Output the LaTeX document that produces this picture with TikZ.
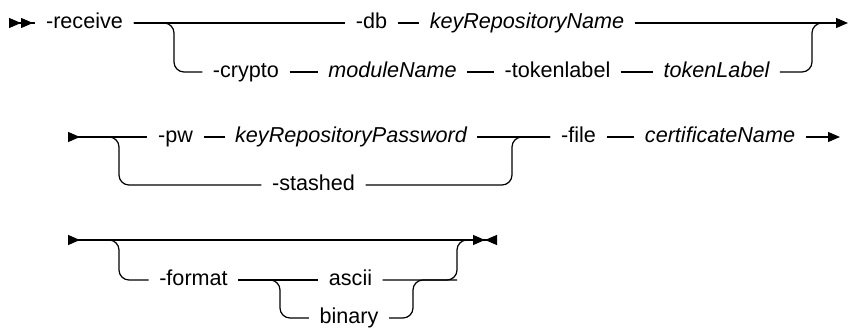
\documentclass[tikz,border=0pt]{standalone}
\usepackage{fontspec}
\setmainfont{Liberation Sans}
\usetikzlibrary{arrows.meta}

\begin{document}
\begin{tikzpicture}[x = .5pt, y = -.5pt, line width = .6pt,
    every node/.style = {inner xsep = 5pt, inner ysep = 0pt,
      text height = .72em, text depth = .2em,
      font = \fontsize{10.8}{12}\selectfont},
    var/.style = {font = \fontsize{10.8}{12}\selectfont\itshape},
    rail/.style = {rounded corners = 5pt},
    head/.tip = {Triangle[length = 6pt, width = 5pt]}]
  \useasboundingbox (0,0) rectangle (848,335);

  % first line
  \coordinate (s1) at (9,23);
  \coordinate (e1) at (848,23);
  \coordinate (j1) at (174,23);
  \coordinate (m1) at (812,23);
  \node (receive) at (84.5,23) {-receive};
  \node (db) at (371.5,23) {-db};
  \node [var] (repname) at (527,23) {keyRepositoryName};
  \node (crypto) at (246,72) {-crypto};
  \node [var] (module) at (392.5,72) {moduleName};
  \node (tokenlabel) at (557.5,72) {-tokenlabel};
  \node [var] (token) at (716.5,72) {tokenLabel};
  \draw [{head[reversed] head[reversed]}-] (s1) -- (receive);
  \draw (receive) -- (db) -- (repname);
  \draw [-head] (repname) -- (e1);
  \draw [rail] (receive.east) -- (j1) |- (crypto.west);
  \draw (crypto) -- (module) -- (tokenlabel) -- (token);
  \draw [rail] (token.east) -| (m1) -- ([xshift = 6pt] m1);

  % second line
  \coordinate (s2) at (68,137);
  \coordinate (e2) at (840,137);
  \coordinate (j2) at (119,137);
  \coordinate (m2) at (512,137);
  \node (pw) at (175.5,137) {-pw};
  \node [var] (password) at (351,137) {keyRepositoryPassword};
  \node (stashed) at (313.5,185) {-stashed};
  \node (file) at (578.5,137) {-file};
  \node [var] (certname) at (720,137) {certificateName};
  \draw [{head[reversed]}-] (s2) -- (pw);
  \draw (pw) -- (password) -- (file) -- (certname);
  \draw [rail] (s2) -- (j2) |- (stashed.west);
  \draw [rail] (stashed.east) -| (m2) -- (file.west);
  \draw [-head] (certname) -- (e2);

  % third line
  \coordinate (s3) at (68,240);
  \coordinate (e3) at (497,240);
  \coordinate (j3) at (119,240);
  \coordinate (j4) at (280,280);
  \coordinate (m3) at (413,280);
  \coordinate (m4) at (457,240);
  \node (format) at (193.5,280) {-format};
  \node (ascii) at (350.5,280) {ascii};
  \node (binary) at (349,318) {binary};
  \draw [{head[reversed]}-{head[sep = 0pt] head[reversed]}] (s3) -- (e3);
  \draw [rail] (s3) -- (j3) |- (format.west);
  \draw (format) -- (ascii);
  \draw [rail] (format.east) -- (j4) |- (binary.west);
  \draw [rail] (binary.east) -| (m3) -- (m3 -| m4);
  \draw [rail] (ascii.east) -| (m4) -- ([xshift = 5pt] m4);
\end{tikzpicture}
\end{document}
